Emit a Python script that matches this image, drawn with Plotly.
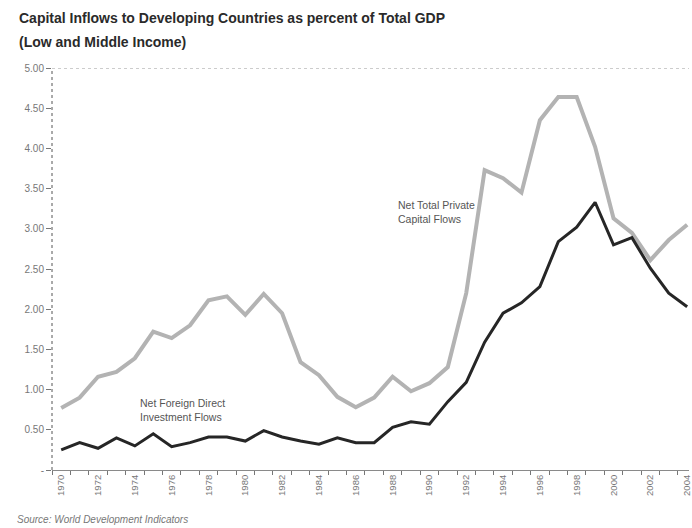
import plotly.graph_objects as go

# Capital inflows to low and middle income countries, % of total GDP
years = list(range(1970, 2005))

private_flows = [
    0.77, 0.90, 1.16, 1.22, 1.39, 1.72, 1.64, 1.80, 2.11, 2.16,
    1.93, 2.19, 1.95, 1.34, 1.18, 0.91, 0.78, 0.90, 1.16, 0.98,
    1.08, 1.28, 2.20, 3.73, 3.63, 3.45, 4.35, 4.64, 4.64, 4.02,
    3.13, 2.95, 2.61, 2.86, 3.05,
]

fdi_flows = [
    0.25, 0.34, 0.27, 0.40, 0.30, 0.45, 0.29, 0.34, 0.41, 0.41,
    0.36, 0.49, 0.41, 0.36, 0.32, 0.40, 0.34, 0.34, 0.53, 0.60,
    0.57, 0.85, 1.09, 1.59, 1.95, 2.08, 2.28, 2.84, 3.02, 3.33,
    2.80, 2.89, 2.51, 2.20, 2.03,
]

y_ticks = [0, 0.5, 1.0, 1.5, 2.0, 2.5, 3.0, 3.5, 4.0, 4.5, 5.0]
y_labels = ["-"] + [f"{v:.2f}" for v in y_ticks[1:]]
x_labels = list(range(1970, 2005, 2))

FONT = "Liberation Sans, Arial, sans-serif"

fig = go.Figure()
fig.add_trace(go.Scatter(
    x=years, y=private_flows, mode="lines",
    line=dict(color="#b3b3b3", width=4),
    name="Net Total Private Capital Flows", showlegend=False,
))
fig.add_trace(go.Scatter(
    x=years, y=fdi_flows, mode="lines",
    line=dict(color="#262626", width=3),
    name="Net Foreign Direct Investment Flows", showlegend=False,
))

fig.update_layout(
    width=692, height=528,
    margin=dict(l=52, r=0, t=68, b=58),
    paper_bgcolor="white", plot_bgcolor="white",
    font=dict(family=FONT, color="#666"),
    xaxis=dict(
        range=[1969.5, 2004.1],
        tickmode="array", tickvals=x_labels, ticktext=[str(v) for v in x_labels],
        tickangle=-90, ticks="", showgrid=False, zeroline=False,
        showline=True, linecolor="#8a8a8a", linewidth=1,
        ticklabeloverflow="allow",
        tickfont=dict(size=9.5, color="#777"),
        minor=dict(tickmode="linear", tick0=1969.5, dtick=1, ticks="outside",
                   ticklen=4, tickcolor="#777", showgrid=False),
    ),
    yaxis=dict(
        range=[0, 5], tickmode="array", tickvals=y_ticks, ticktext=y_labels,
        ticks="outside", ticklen=5, tickcolor="#777", showgrid=False,
        zeroline=False, showline=False,
        tickfont=dict(size=10, color="#777"),
    ),
)

# dotted left axis and top border line
fig.add_shape(type="line", xref="paper", yref="paper", x0=0, x1=0, y0=0, y1=1,
              line=dict(color="#555", width=1, dash="dot"))
fig.add_shape(type="line", xref="paper", yref="y", x0=0, x1=1, y0=5, y1=5,
              line=dict(color="#999", width=1, dash="dot"))

# title lines
fig.add_annotation(text="<b>Capital Inflows to Developing Countries as percent of Total GDP</b>",
                   xref="paper", yref="paper", x=-0.055, y=1.124,
                   xanchor="left", yanchor="middle", showarrow=False,
                   font=dict(family=FONT, size=14, color="#2a2a2a"))
fig.add_annotation(text="<b>(Low and Middle Income)</b>",
                   xref="paper", yref="paper", x=-0.055, y=1.065,
                   xanchor="left", yanchor="middle", showarrow=False,
                   font=dict(family=FONT, size=14, color="#2a2a2a"))

# series labels
fig.add_annotation(text="Net Total Private<br>Capital Flows",
                   xref="x", yref="y", x=1988.2, y=3.21,
                   xanchor="left", yanchor="middle", align="left", showarrow=False,
                   font=dict(family=FONT, size=10.5, color="#555"))
fig.add_annotation(text="Net Foreign Direct<br>Investment Flows",
                   xref="x", yref="y", x=1974.15, y=0.75,
                   xanchor="left", yanchor="middle", align="left", showarrow=False,
                   font=dict(family=FONT, size=10.5, color="#555"))

fig.add_annotation(text="<i>Source: World Development Indicators</i>",
                   xref="paper", yref="paper", x=-0.058, y=-0.124,
                   xanchor="left", yanchor="middle", showarrow=False,
                   font=dict(family=FONT, size=10, color="#777"))

fig.write_html("out.html")
